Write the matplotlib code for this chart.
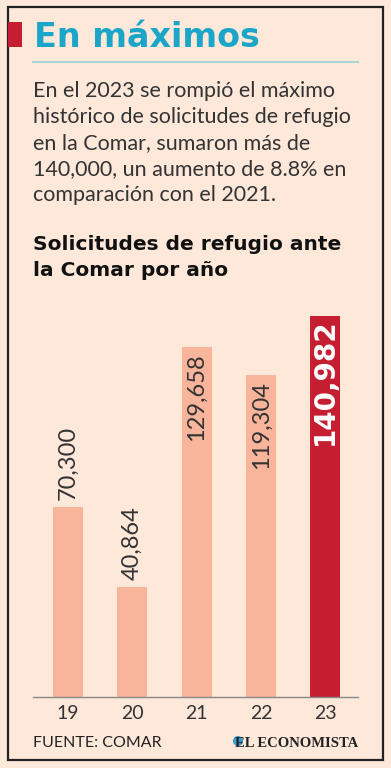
import matplotlib
matplotlib.use("Agg")
import matplotlib.pyplot as plt
from matplotlib.patches import Rectangle, Ellipse

years = ["19", "20", "21", "22", "23"]
values = [70300, 40864, 129658, 119304, 140982]
labels = ["70,300", "40,864", "129,658", "119,304", "140,982"]
inside = [False, False, True, True, True]

title = "En máximos"
paragraph = ["En el 2023 se rompió el máximo",
             "histórico de solicitudes de refugio",
             "en la Comar, sumaron más de",
             "140,000, un aumento de 8.8% en",
             "comparación con el 2021."]
subtitle = ["Solicitudes de refugio ante", "la Comar por año"]
source = "FUENTE: COMAR"
brand = "EL ECONOMISTA"

BG = "#fde8da"
LIGHT = "#f9b59b"
RED = "#c41e30"
CYAN = "#1aa5c9"

W, H = 391, 768
fig = plt.figure(figsize=(W/100, H/100), dpi=100)
fig.patch.set_facecolor(BG)

def fx(x): return x / W
def fy(y): return 1 - y / H

# frame
fig.add_artist(Rectangle((fx(8), fy(760)), fx(383) - fx(8), fy(7) - fy(760),
                         transform=fig.transFigure, fill=False, ec="#222222", lw=1.6))
# red tab
fig.add_artist(Rectangle((fx(8), fy(47)), fx(14), fy(22) - fy(47),
                         transform=fig.transFigure, fc=RED, ec="none"))
fig.text(fx(34), fy(47), title, color=CYAN, fontsize=24, fontweight="bold",
         family="DejaVu Sans", va="baseline", ha="left")
fig.add_artist(plt.Line2D([fx(33), fx(358)], [fy(62), fy(62)], color="#a8d8d6", lw=1.5,
                          transform=fig.transFigure))

for i, line in enumerate(paragraph):
    fig.text(fx(33), fy(97 + i * 26), line, color="#333333", fontsize=15.5,
             family="Lato", fontweight="normal", va="baseline", ha="left")

for i, line in enumerate(subtitle):
    fig.text(fx(33), fy(250 + i * 26), line, color="#111111", fontsize=14.5,
             family="DejaVu Sans", fontweight="bold", va="baseline", ha="left")

# chart axes
top_px, base_px = 291.6, 697
ax = fig.add_axes([fx(33), fy(base_px), fx(358) - fx(33), fy(top_px) - fy(base_px)])
ax.set_facecolor("none")
x = list(range(len(years)))
colors = [LIGHT] * 4 + [RED]
ax.bar(x, values, width=0.467, color=colors, zorder=2)
ax.set_xlim(-0.545, 4.51)
ax.set_ylim(0, 150000)
for s in ["top", "right", "left"]:
    ax.spines[s].set_visible(False)
ax.spines["bottom"].set_color("#888888")
ax.spines["bottom"].set_linewidth(1.0)
ax.set_yticks([])
ax.set_xticks(x)
ax.set_xticklabels(years, fontsize=14, family="Lato", fontweight="normal", color="#333333")
ax.tick_params(axis="x", length=0, pad=6)

for i, (v, lab, ins) in enumerate(zip(values, labels, inside)):
    if not ins:
        ax.annotate(lab, (i, v), xytext=(0, 5), textcoords="offset points",
                    rotation=90, ha="center", va="bottom", fontsize=17,
                    family="Lato", fontweight="normal", color="#333333")
    elif i < 4:
        ax.annotate(lab, (i, v), xytext=(0, -5), textcoords="offset points",
                    rotation=90, ha="center", va="top", fontsize=17,
                    family="Lato", fontweight="normal", color="#333333")
    else:
        ax.annotate(lab, (i, v), xytext=(0, -2), textcoords="offset points",
                    rotation=90, ha="center", va="top", fontsize=20,
                    family="DejaVu Sans", fontweight="bold", color="white")

fig.text(fx(33), fy(747), source, color="#222222", fontsize=11.5, family="Lato",
         va="baseline", ha="left")
fig.add_artist(Ellipse((fx(238), fy(741)), fx(10), 10 / H, transform=fig.transFigure,
                       fc="#3b9bd0", ec="none"))
fig.text(fx(358), fy(747), brand, color="#222222", fontsize=10.5, family="Liberation Serif",
         fontweight="bold", va="baseline", ha="right")

fig.savefig("out.png", dpi=100, facecolor=BG)
